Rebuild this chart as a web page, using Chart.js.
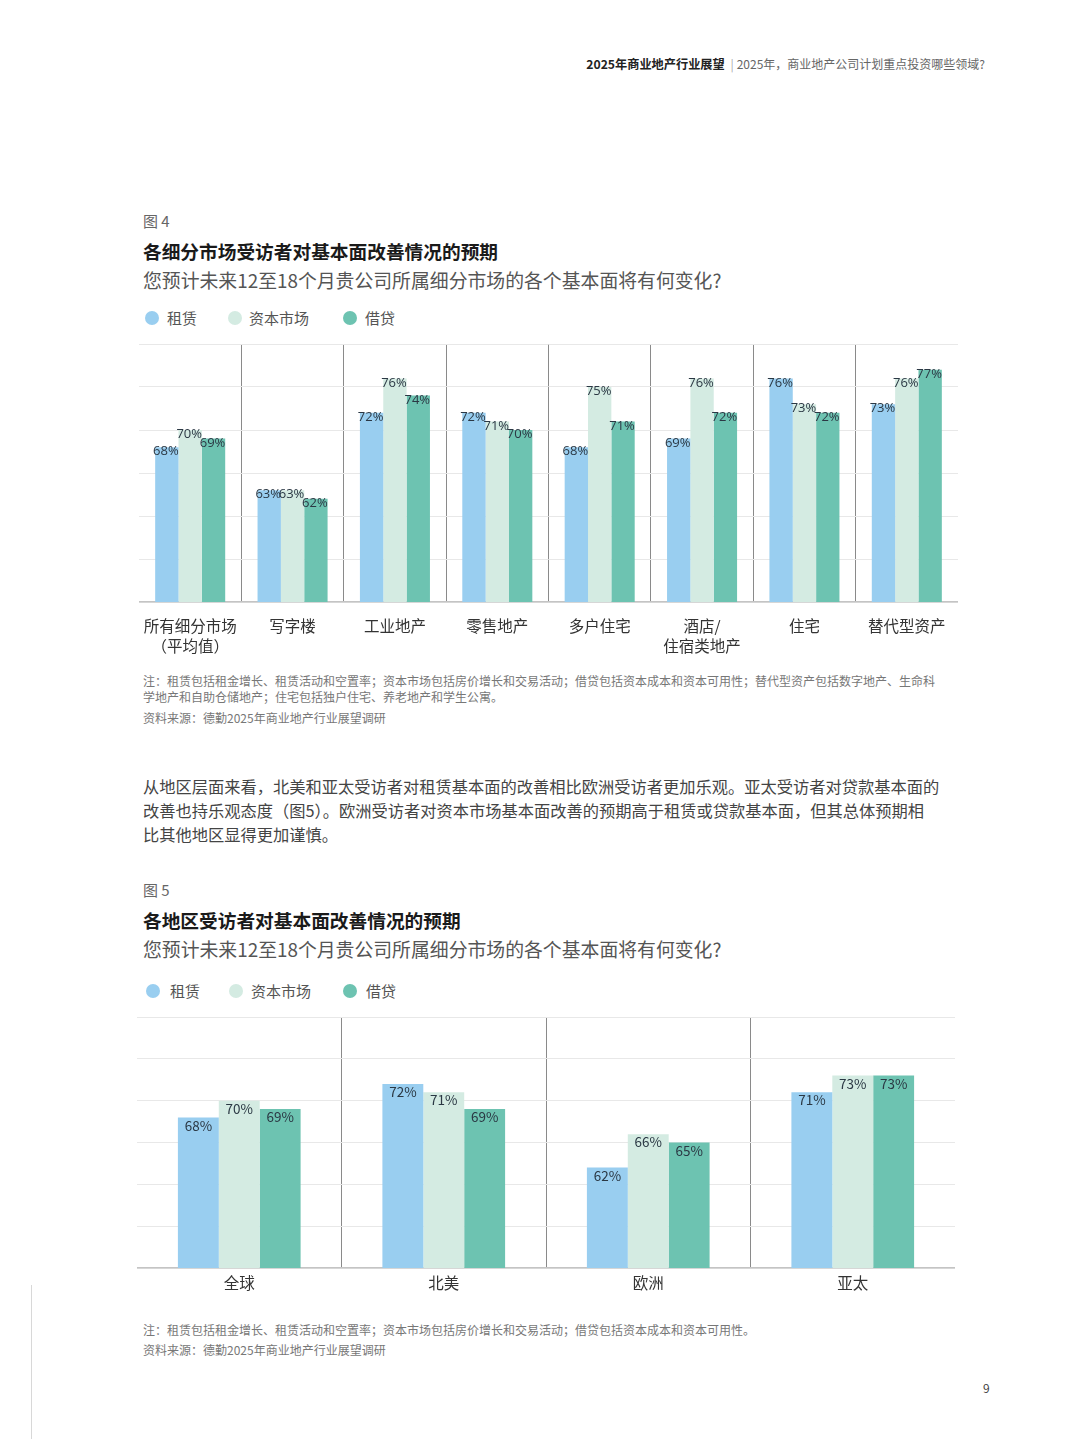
<!DOCTYPE html>
<html>
<head>
<meta charset="utf-8">
<script src="https://cdn.jsdelivr.net/npm/chart.js@4.4.1/dist/chart.umd.min.js"></script>
<style>
  html, body { margin:0; padding:0; background:#fff; }
  body { width:1080px; height:1439px; position:relative; overflow:hidden; font-family:"Noto Sans CJK SC","Noto Sans",sans-serif; }
  .t { position:absolute; white-space:nowrap; }
  .dot { position:absolute; width:14px; height:14px; border-radius:50%; }
  canvas { position:absolute; }
</style>
</head>
<body>
<script>
// ---------- DATA ----------
const seriesNames = ["租赁", "资本市场", "借贷"];
const segmentLabels = [["所有细分市场", "（平均值）"], "写字楼", "工业地产", "零售地产", "多户住宅", ["酒店/", "住宿类地产"], "住宅", "替代型资产"];
const segLeasing = [68, 63, 72, 72, 68, 69, 76, 73];
const segCapital = [70, 63, 76, 71, 75, 76, 73, 76];
const segLending = [69, 62, 74, 70, 71, 72, 72, 77];

const regionLabels = ["全球", "北美", "欧洲", "亚太"];
const regLeasing = [68, 72, 62, 71];
const regCapital = [70, 71, 66, 73];
const regLending = [69, 69, 65, 73];

const axisMin = 50, axisMax = 80, axisStep = 5;
</script>

<!-- header -->
<div class="t" style="right:95px; top:56px; line-height:16px; font-size:12px; color:#666;">
  <span style="font-weight:bold; color:#222; font-size:12.2px;">2025年商业地产行业展望</span>
  <span style="color:#aaa; margin:0 3px;">|</span>2025年，商业地产公司计划重点投资哪些领域?
</div>

<!-- Figure 4 texts -->
<div class="t" style="left:143px; top:212px; line-height:18px; font-size:15px; color:#666;">图 4</div>
<div class="t" style="left:143px; top:240px; line-height:22px; font-size:18.7px; font-weight:bold; color:#1a1a1a;">各细分市场受访者对基本面改善情况的预期</div>
<div class="t" style="left:143px; top:268px; line-height:24px; font-size:18.85px; color:#555;">您预计未来12至18个月贵公司所属细分市场的各个基本面将有何变化?</div>

<div class="dot" style="left:145px; top:311px; background:#99CEF0;"></div>
<div class="t" style="left:167px; top:309px; line-height:18px; font-size:15px; color:#555;">租赁</div>
<div class="dot" style="left:228px; top:311px; background:#D4EBE2;"></div>
<div class="t" style="left:249px; top:309px; line-height:18px; font-size:15px; color:#555;">资本市场</div>
<div class="dot" style="left:343px; top:311px; background:#6DC3B1;"></div>
<div class="t" style="left:365px; top:309px; line-height:18px; font-size:15px; color:#555;">借贷</div>

<canvas id="c4" width="819" height="328" style="left:139px; top:334px;"></canvas>

<div class="t" style="left:143px; top:673px; line-height:16px; font-size:12px; color:#777;">注：租赁包括租金增长、租赁活动和空置率；资本市场包括房价增长和交易活动；借贷包括资本成本和资本可用性；替代型资产包括数字地产、生命科</div>
<div class="t" style="left:143px; top:689px; line-height:16px; font-size:12px; color:#777;">学地产和自助仓储地产；住宅包括独户住宅、养老地产和学生公寓。</div>
<div class="t" style="left:143px; top:710px; line-height:16px; font-size:12px; color:#777;">资料来源：德勤2025年商业地产行业展望调研</div>

<!-- paragraph -->
<div class="t" style="left:143px; top:776px; line-height:20px; font-size:16.25px; color:#444;">从地区层面来看，北美和亚太受访者对租赁基本面的改善相比欧洲受访者更加乐观。亚太受访者对贷款基本面的</div>
<div class="t" style="left:143px; top:800px; line-height:20px; font-size:16.25px; color:#444;">改善也持乐观态度（图5）。欧洲受访者对资本市场基本面改善的预期高于租赁或贷款基本面，但其总体预期相</div>
<div class="t" style="left:143px; top:824px; line-height:20px; font-size:16.25px; color:#444;">比其他地区显得更加谨慎。</div>

<!-- Figure 5 texts -->
<div class="t" style="left:143px; top:881px; line-height:18px; font-size:15px; color:#666;">图 5</div>
<div class="t" style="left:143px; top:909px; line-height:22px; font-size:18.7px; font-weight:bold; color:#1a1a1a;">各地区受访者对基本面改善情况的预期</div>
<div class="t" style="left:143px; top:937px; line-height:24px; font-size:18.85px; color:#555;">您预计未来12至18个月贵公司所属细分市场的各个基本面将有何变化?</div>

<div class="dot" style="left:146px; top:984px; background:#99CEF0;"></div>
<div class="t" style="left:170px; top:982px; line-height:18px; font-size:15px; color:#555;">租赁</div>
<div class="dot" style="left:229px; top:984px; background:#D4EBE2;"></div>
<div class="t" style="left:251px; top:982px; line-height:18px; font-size:15px; color:#555;">资本市场</div>
<div class="dot" style="left:343px; top:984px; background:#6DC3B1;"></div>
<div class="t" style="left:366px; top:982px; line-height:18px; font-size:15px; color:#555;">借贷</div>

<canvas id="c5" width="818" height="301" style="left:137px; top:1007px;"></canvas>

<div class="t" style="left:143px; top:1322px; line-height:16px; font-size:12px; color:#777;">注：租赁包括租金增长、租赁活动和空置率；资本市场包括房价增长和交易活动；借贷包括资本成本和资本可用性。</div>
<div class="t" style="left:143px; top:1342px; line-height:16px; font-size:12px; color:#777;">资料来源：德勤2025年商业地产行业展望调研</div>

<div class="t" style="left:983px; top:1380px; line-height:16px; font-size:12px; color:#444;">9</div>
<div style="position:absolute; left:31px; top:1285px; width:1px; height:154px; background:#d8d8d8;"></div>

<script>
const colors = ["#99CEF0", "#D4EBE2", "#6DC3B1"];
Chart.defaults.font.family = "'Noto Sans CJK SC', 'Noto Sans', sans-serif";

function labelPlugin(offsetY, font, dx) {
  return {
    id: 'barLabels',
    afterDatasetsDraw(chart) {
      const ctx = chart.ctx;
      ctx.save();
      ctx.font = font;
      ctx.fillStyle = '#2b3844';
      ctx.textAlign = 'center';
      ctx.textBaseline = 'middle';
      chart.data.datasets.forEach((ds, di) => {
        const meta = chart.getDatasetMeta(di);
        meta.data.forEach((bar, i) => {
          ctx.fillText(ds.data[i] + '%', bar.x + dx, bar.y + offsetY);
        });
      });
      ctx.restore();
    }
  };
}

function makeChart(id, labels, s1, s2, s3, catPct, xAxisHeight, tickGap, labelOffset, labelFont, dx, sepColor) {
  return new Chart(document.getElementById(id), {
    type: 'bar',
    data: {
      labels: labels,
      datasets: [s1, s2, s3].map((d, k) => ({
        label: seriesNames[k], data: d, backgroundColor: colors[k],
        borderWidth: 0, categoryPercentage: catPct, barPercentage: 1.0
      }))
    },
    options: {
      responsive: false, animation: false,
      layout: { padding: { top: 10, left: 0, right: 0, bottom: 0 } },
      plugins: { legend: { display: false }, tooltip: { enabled: false } },
      scales: {
        x: {
          grid: {
            offset: true, drawTicks: true, tickLength: tickGap, tickColor: 'rgba(0,0,0,0)', lineWidth: 1,
            color: (c) => (c.index === 0 || c.index === undefined) ? 'rgba(0,0,0,0)' : sepColor
          },
          border: { display: true, color: '#c4c4c4', width: 1.5 },
          ticks: { color: '#333', font: { size: 15.5, lineHeight: 1.29 }, padding: 0, maxRotation: 0, autoSkip: false },
          afterFit(scale) { scale.height = xAxisHeight; }
        },
        y: {
          min: axisMin, max: axisMax,
          ticks: { display: false, stepSize: axisStep },
          grid: { color: '#e8e8e8', drawTicks: false, lineWidth: 1 },
          border: { display: false },
          afterFit(scale) { scale.width = 0; }
        }
      }
    },
    plugins: [labelPlugin(labelOffset, labelFont, dx)]
  });
}

makeChart('c4', segmentLabels, segLeasing, segCapital, segLending, 0.684, 60, 14, 4.5, "13px 'Open Sans', sans-serif", -1, '#8a8a8a');
makeChart('c5', regionLabels, regLeasing, regCapital, regLending, 0.6, 40, 5, 8, "13.5px 'Noto Sans CJK SC', sans-serif", 0, '#8a8a8a');
</script>
</body>
</html>
